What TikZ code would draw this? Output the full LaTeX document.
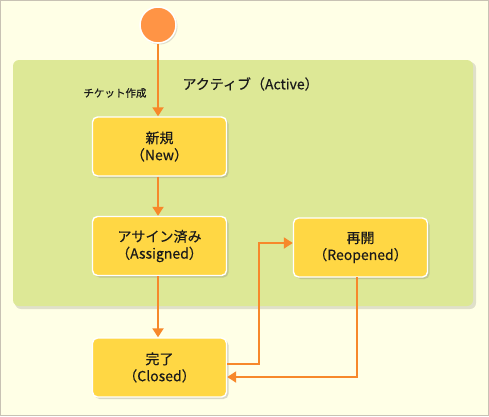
\documentclass[tikz,border=0pt]{standalone}
\usepackage{fontspec}
\setmainfont{Noto Sans CJK JP}[FakeBold=0.35]
\usetikzlibrary{arrows.meta,shadows,calc}
\definecolor{bgc}{HTML}{FFFFE6}
\definecolor{framec}{HTML}{C8C2B4}
\definecolor{greenc}{HTML}{DDE896}
\definecolor{boxc}{HTML}{FFD744}
\definecolor{arrowc}{HTML}{F7882A}
\definecolor{startc}{HTML}{FF9445}
\definecolor{textc}{HTML}{1A1A1A}
\tikzset{
  statebox/.style={draw=white, line width=1.4pt, fill=boxc, rounded corners=5pt,
    minimum width=134pt, minimum height=59pt, align=center, text=textc,
    font=\fontsize{14}{17}\selectfont,
    drop shadow={opacity=0.3, shadow xshift=2pt, shadow yshift=-2pt}},
  trans/.style={draw=arrowc, line width=2pt, -{Triangle[width=11pt,length=9pt]}},
}
\begin{document}
\begin{tikzpicture}[x=1pt,y=-1pt]
\useasboundingbox (0,0) rectangle (489,416);
\draw[draw=framec, fill=bgc, line width=1pt] (0.5,0.5) rectangle (488.5,415.5);
% active region
\fill[black, opacity=0.12, rounded corners=6pt] (15,62) rectangle (476,309);
\fill[greenc, rounded corners=6pt] (13,60) rectangle (473,306);
\node[font=\fontsize{14}{17}\selectfont, text=textc, anchor=west] (title) at (179,84) {アクティブ（Active）};
% start
\node[circle, fill=startc, draw=white, line width=1.5pt, minimum size=36pt, inner sep=0pt,
  drop shadow={opacity=0.25, shadow xshift=1.5pt, shadow yshift=-1.5pt}] (start) at (158,25) {};
% states
\node[statebox] (new) at (159.5,146.5) {新規\\（New）};
\node[statebox] (assigned) at (159.5,246) {アサイン済み\\（Assigned）};
\node[statebox] (reopened) at (360.5,247.5) {再開\\（Reopened）};
\node[statebox] (closed) at (159.5,367.5) {完了\\（Closed）};
% transitions
\draw[trans] (start) -- (start |- new.north);
\node[font=\fontsize{10.5}{12}\selectfont, text=textc, anchor=east] (lbl) at (150,93) {チケット作成};
\draw[trans] (start |- new.south) -- (start |- assigned.north);
\draw[trans] (start |- assigned.south) -- (start |- closed.north);
\draw[trans] ($(closed.east)+(0,-3.5)$) -| (259,243) -- (reopened.west |- 0,243);
\draw[trans] (357,277) coordinate (rb) -- (357,377) -- ($(closed.east)+(0,9.5)$);
\end{tikzpicture}
\end{document}
